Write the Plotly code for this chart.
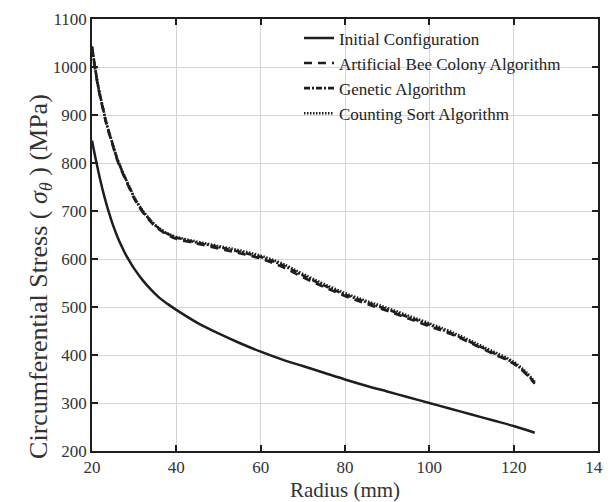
import plotly.graph_objects as go

# ---- data ----
radius_init = [20, 21, 22, 23, 24, 25, 26, 27, 28, 29, 30, 32, 34, 36, 38, 40, 45, 50, 55,
               60, 65, 70, 75, 80, 85, 90, 95, 100, 105, 110, 115, 120, 125]
stress_init = [847, 803, 763, 728, 697, 670, 647, 627, 609, 594, 580, 556, 536, 519, 506, 494, 467, 445, 425,
               407, 391, 377, 363, 349, 336, 324, 312, 300, 288, 276, 264, 252, 238]

radius_opt = [20, 20.7, 21.5, 22.5, 23.5, 24.7, 26, 27.5, 29, 30, 31, 32, 33, 34, 35, 36, 37, 38, 40,
              45, 50, 55, 60, 65, 70, 75, 80, 85, 90, 95, 100, 105, 110, 115, 120, 123, 125]
stress_abc = [1040, 998, 956, 916, 878, 843, 806, 774, 745, 726, 711, 698, 687, 677, 668, 661, 655, 650, 642,
              632, 622, 612, 601, 584, 562, 542, 523, 507, 492, 476, 460, 444, 424, 403, 382, 360, 340]
stress_ga = [1042, 1000, 958, 918, 880, 845, 808, 776, 747, 728, 713, 700, 689, 679, 670, 663, 657, 652, 645,
             634, 625, 615, 604, 588, 566, 545, 526, 510, 495, 479, 463, 446, 426, 405, 383, 361, 342]
stress_cs = [1043, 1001, 959, 919, 881, 846, 809, 777, 748, 729, 714, 701, 690, 680, 671, 664, 658, 653, 646,
             636, 627, 618, 607, 591, 569, 548, 529, 513, 498, 482, 466, 449, 429, 408, 386, 364, 344]

x_ticks = [20, 40, 60, 80, 100, 120, 140]
y_ticks = [200, 300, 400, 500, 600, 700, 800, 900, 1000, 1100]

names = ["Initial Configuration", "Artificial Bee Colony Algorithm",
         "Genetic Algorithm", "Counting Sort Algorithm"]
x_title = "Radius (mm)"
y_title = "Circumferential Stress (&nbsp;<i>σ</i><sub><i>θ</i></sub>&nbsp;) (MPa)"

FONT = "Times New Roman, Liberation Serif, DejaVu Serif, serif"
INK = "#1e1e1e"
TXT = "#333333"

fig = go.Figure()
fig.add_trace(go.Scatter(x=radius_init, y=stress_init, mode="lines", name=names[0],
                         line=dict(color=INK, width=2.5, shape="spline")))
fig.add_trace(go.Scatter(x=radius_opt, y=stress_abc, mode="lines", name=names[1],
                         line=dict(color=INK, width=2.6, dash="8px,6px", shape="spline")))
fig.add_trace(go.Scatter(x=radius_opt, y=stress_ga, mode="lines", name=names[2],
                         line=dict(color=INK, width=2.6, dash="6px,2px,2px,2px", shape="spline")))
fig.add_trace(go.Scatter(x=radius_opt, y=stress_cs, mode="lines", name=names[3],
                         line=dict(color=INK, width=2.6, dash="1.5px,1.5px", shape="spline")))

axis_common = dict(
    showline=True, linecolor=INK, linewidth=1.5, mirror="ticks",
    ticks="inside", ticklen=6, tickwidth=1.5, tickcolor=INK,
    showgrid=True, gridcolor="#d4d4d4", gridwidth=1, automargin=False,
    zeroline=False, tickfont=dict(family=FONT, size=17, color=TXT),
)

fig.update_xaxes(range=[20, 140], tickvals=x_ticks,
                 title=dict(text=x_title, font=dict(family=FONT, size=21, color=TXT), standoff=8),
                 **axis_common)
fig.update_yaxes(range=[200, 1100], tickvals=y_ticks, **axis_common)

# y-axis title as a rotated annotation (sits a little below centre, like the reference)
fig.add_annotation(text=y_title, textangle=-90, xref="paper", yref="paper",
                   x=-0.103, y=0.405, xanchor="center", yanchor="middle", showarrow=False,
                   font=dict(family=FONT, size=26, color=TXT))

# white panel behind the legend (hides the grid there, as in the reference)
fig.add_shape(type="rect", xref="paper", yref="paper",
              x0=0.411, x1=0.988, y0=0.771, y1=0.979,
              fillcolor="white", line=dict(width=0), layer="between")

# the page body keeps its default 8px margin; margins are set so the plot lands
# where the reference has it
fig.update_layout(
    width=611, height=494,
    margin=dict(l=84, r=21, t=11, b=51, autoexpand=False),
    paper_bgcolor="white", plot_bgcolor="white",
    font=dict(family=FONT, color=TXT),
    legend=dict(xref="container", yref="container", x=291 / 611, y=0.975,
                xanchor="left", yanchor="top",
                bgcolor="rgba(0,0,0,0)", borderwidth=0,
                font=dict(family=FONT, size=17, color="#222222"),
                tracegroupgap=0, itemwidth=30),
)

fig.write_html("out.html")
